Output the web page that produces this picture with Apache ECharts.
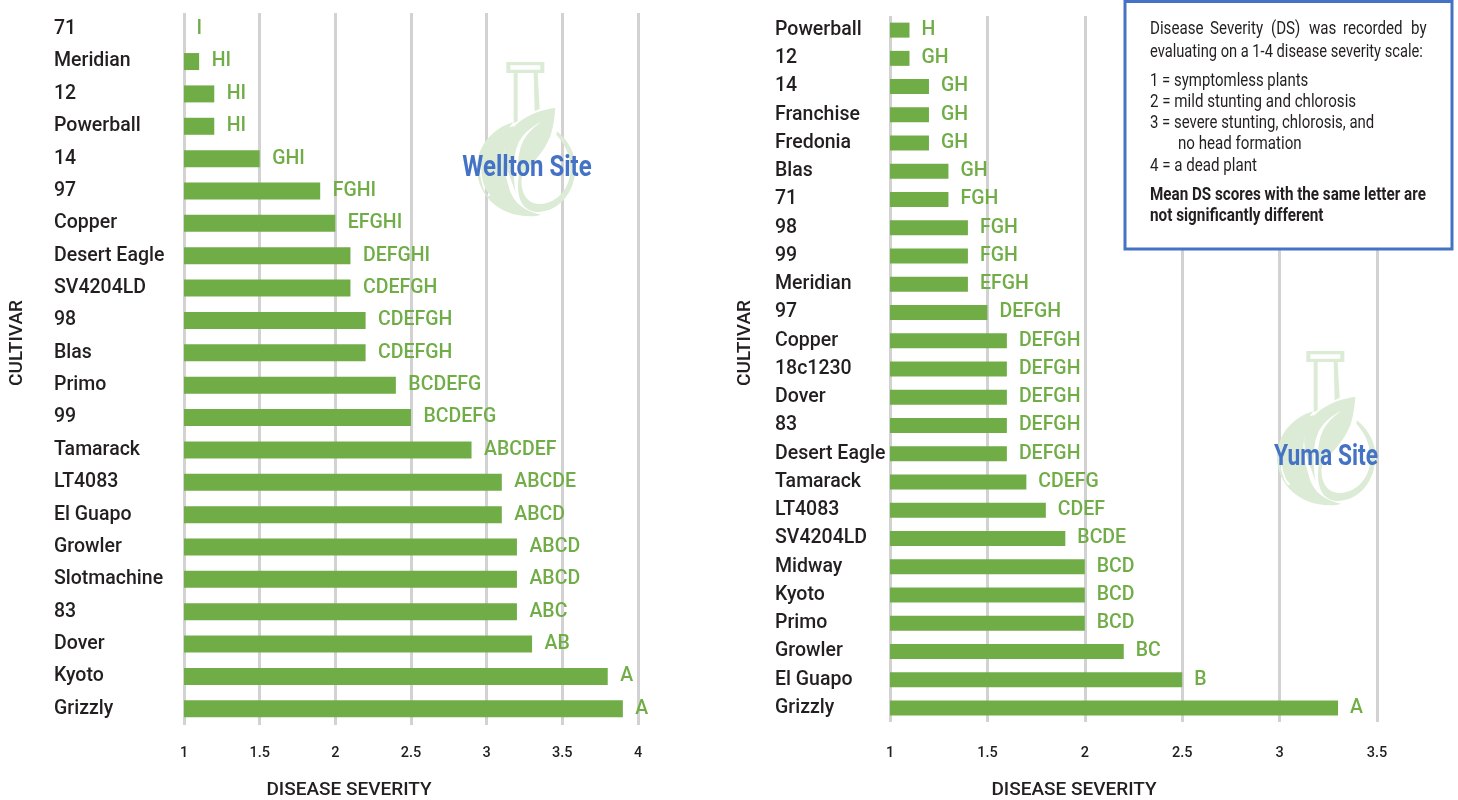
<!DOCTYPE html>
<html><head><meta charset="utf-8">
<style>html,body{margin:0;padding:0;background:#fff}#c{width:1458px;height:800px}</style>
<script src="https://cdn.jsdelivr.net/npm/echarts@6/dist/echarts.min.js"></script>
</head><body><div id="c"></div>
<script>
const wellCats = ['71','Meridian','12','Powerball','14','97','Copper','Desert Eagle','SV4204LD','98','Blas','Primo','99','Tamarack','LT4083','El Guapo','Growler','Slotmachine','83','Dover','Kyoto','Grizzly'];
const wellVals = [1,1.1,1.2,1.2,1.5,1.9,2,2.1,2.1,2.2,2.2,2.4,2.5,2.9,3.1,3.1,3.2,3.2,3.2,3.3,3.8,3.9];
const wellLetters = ['I','HI','HI','HI','GHI','FGHI','EFGHI','DEFGHI','CDEFGH','CDEFGH','CDEFGH','BCDEFG','BCDEFG','ABCDEF','ABCDE','ABCD','ABCD','ABCD','ABC','AB','A','A'];
const yumaCats = ['Powerball','12','14','Franchise','Fredonia','Blas','71','98','99','Meridian','97','Copper','18c1230','Dover','83','Desert Eagle','Tamarack','LT4083','SV4204LD','Midway','Kyoto','Primo','Growler','El Guapo','Grizzly'];
const yumaVals = [1.1,1.1,1.2,1.2,1.2,1.3,1.3,1.4,1.4,1.4,1.5,1.6,1.6,1.6,1.6,1.6,1.7,1.8,1.9,2,2,2,2.2,2.5,3.3];
const yumaLetters = ['H','GH','GH','GH','GH','GH','FGH','FGH','FGH','EFGH','DEFGH','DEFGH','DEFGH','DEFGH','DEFGH','DEFGH','CDEFG','CDEF','BCDE','BCD','BCD','BCD','BC','B','A'];

const FONT = 'Roboto,sans-serif';
const INK = '#231f20', GREEN = '#70ad47', BLUE = '#4472c4', PALE = '#dcebd5';

function xAxis(idx, max, pad, margin, gap){
  return {gridIndex:idx,type:'value',min:1,max:max,interval:0.5,position:'bottom',
    name:'DISEASE SEVERITY',nameLocation:'middle',nameGap:gap,
    nameTextStyle:{fontFamily:FONT,fontSize:19,fontWeight:500,color:INK,padding:[0,pad,0,0]},
    axisLine:{show:false},axisTick:{show:false},
    axisLabel:{fontFamily:FONT,fontSize:14.5,fontWeight:500,color:INK,margin:margin,showMinLabel:true,showMaxLabel:true},
    splitLine:{show:true,lineStyle:{color:'#d2d2d2',width:3}}};
}
function yAxis(idx, cats, margin, gap){
  return {gridIndex:idx,type:'category',data:cats,inverse:true,
    name:'CULTIVAR',nameLocation:'middle',nameGap:gap,
    nameTextStyle:{fontFamily:FONT,fontSize:19,fontWeight:500,color:INK,padding:[0,0,0,52]},
    axisLine:{show:false},axisTick:{show:false},
    axisLabel:{fontFamily:FONT,fontSize:19.5,fontWeight:500,color:INK,align:'left',margin:margin,interval:0,padding:[5,0,0,0]}};
}
function bars(idx, vals, letters, w, dist){
  return {type:'bar',xAxisIndex:idx,yAxisIndex:idx,data:vals,barWidth:w,z:3,
    itemStyle:{color:GREEN},
    label:{show:true,position:'right',distance:dist,fontFamily:FONT,fontSize:19.5,fontWeight:500,color:GREEN,padding:[5,0,0,0],
      formatter:p=>letters[p.dataIndex]}};
}
const flaskPaths = [
  'M228 32H342V65H228ZM240 42V55H330V42Z',
  'M250 65H262V210L250 215Z',
  'M310 65H322L328 172L313 180Z',
  'M249 212C185 232 140 285 140 350C140 430 205 495 300 495C312 495 322 493 332 490C285 480 250 455 238 415C232 392 224 370 220 340C215 300 228 262 252 232L249 224C205 240 165 275 155 325C150 360 155 395 170 420L180 432C170 445 150 400 148 350Z',
  'M375 170C305 178 240 215 224 275C216 312 228 350 243 388C250 408 255 418 257 432C248 380 246 320 262 280C275 250 300 228 332 212C300 235 275 262 268 300C262 325 262 350 265 375C300 345 340 305 360 255C370 225 373 195 375 170Z',
  'M380 240C415 270 435 305 435 348C435 425 385 480 325 482C280 482 258 445 264 385C266 370 268 360 270 352L275 375C268 415 285 458 328 458C385 456 422 405 420 350C420 315 405 280 378 250Z'
];
flaskPaths.forEach((d,i)=>echarts.graphic.registerShape('flask'+i, echarts.graphic.extendPath(d)));
function flask(ox, oy){
  return flaskPaths.map((d,i)=>({type:'flask'+i,x:ox-140/3,y:oy-32/3,scaleX:1/3,scaleY:1/3,z:1,silent:true,
    style:{fill:PALE}}));
}
const note = [
  {t:'Disease',x:1150,y:29,s:.84},{t:'Severity',x:1210,y:29,s:.84},{t:'(DS)',x:1271,y:29,s:.84},{t:'was',x:1309,y:29,s:.84},{t:'recorded',x:1343,y:29,s:.84},{t:'by',x:1411,y:29,s:.84},
  {t:'evaluating on a 1-4 disease severity scale:',x:1150,y:52,s:.815},
  {t:'1 = symptomless plants',x:1150,y:81,s:.83},
  {t:'2 = mild stunting and chlorosis',x:1150,y:102,s:.84},
  {t:'3 = severe stunting, chlorosis, and',x:1150,y:123,s:.83},
  {t:'no head formation',x:1178,y:144,s:.84},
  {t:'4 = a dead plant',x:1150,y:166,s:.84},
  {t:'Mean DS scores with the same letter are',x:1150,y:195,b:1,s:.845},
  {t:'not significantly different',x:1150,y:216,b:1,s:.85}
];
const graphic = [
  ...flask(477,62), ...flask(1277,351),
  {type:'text',x:527,y:168,z:20,scaleX:0.8,style:{text:'Wellton Site',fontFamily:FONT,fontSize:30,fontWeight:'bold',fill:BLUE,align:'center',verticalAlign:'middle'}},
  {type:'text',x:1326,y:457,z:20,scaleX:0.76,style:{text:'Yuma Site',fontFamily:FONT,fontSize:30,fontWeight:'bold',fill:BLUE,align:'center',verticalAlign:'middle'}},
  {type:'rect',z:30,shape:{x:1125,y:1.5,width:327,height:247.5},style:{fill:'#fff',stroke:BLUE,lineWidth:3}},
  ...note.map(n=>({type:'text',x:n.x,y:n.y,z:31,scaleX:n.s,style:{text:n.t,fontFamily:FONT,fontSize:18,fontWeight:n.b?'bold':'normal',fill:INK,align:'left',verticalAlign:'middle'}}))
];
const chart = echarts.init(document.getElementById('c'),null,{renderer:'canvas'});
chart.setOption({
  animation:false,backgroundColor:'#fff',
  grid:[{left:184,width:454,top:13,height:712,outerBoundsMode:'none'},{left:890,width:487,top:16,height:706,outerBoundsMode:'none'}],
  xAxis:[xAxis(0,4,124,21,56),xAxis(1,3.5,119,24,59)],
  yAxis:[yAxis(0,wellCats,130,157),yAxis(1,yumaCats,115,135)],
  series:[bars(0,wellVals,wellLetters,17,12.5),bars(1,yumaVals,yumaLetters,15,12)],
  graphic:graphic
});
</script></body></html>
